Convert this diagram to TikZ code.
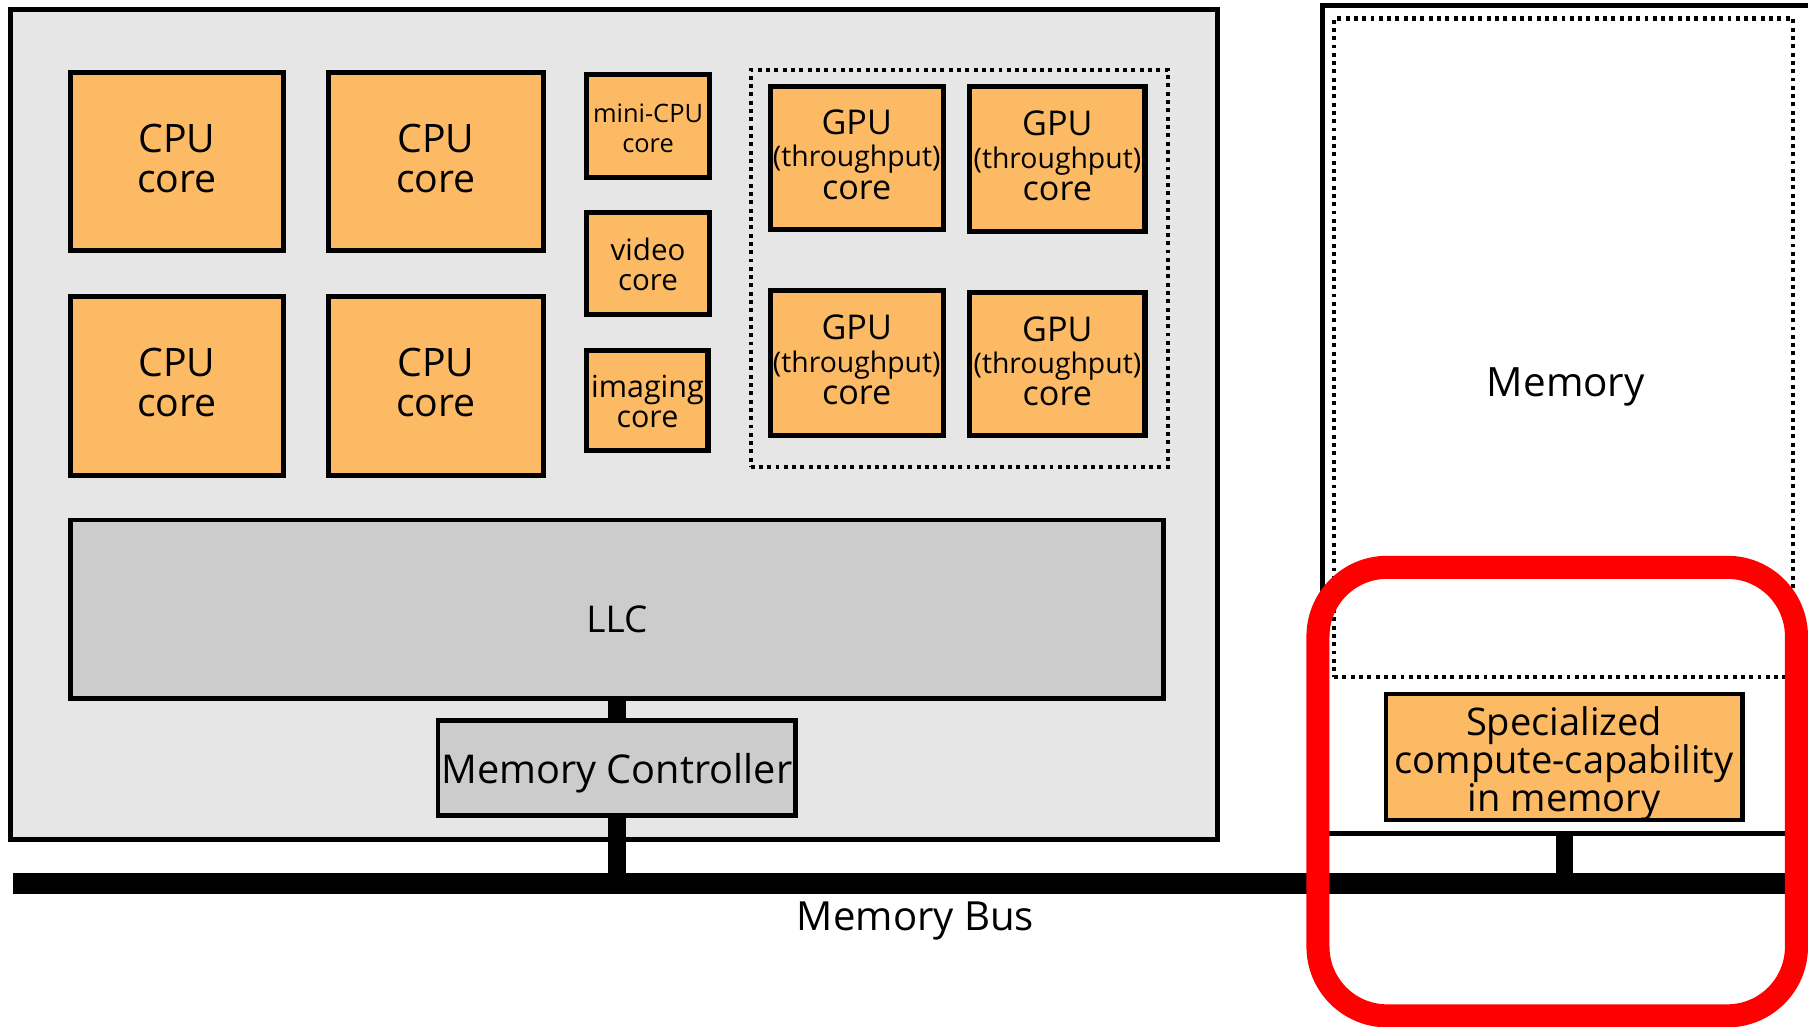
\documentclass[tikz,border=0pt]{standalone}
\usepackage{fontspec}
\setmainfont{Open Sans}
\usetikzlibrary{fit}
\definecolor{orng}{RGB}{252,186,100}
\definecolor{chipgray}{RGB}{230,230,230}
\definecolor{llcgray}{RGB}{204,204,204}
% stacked, centred lines: #1 = raise of the first baseline above the node centre,
% #2 = distance between baselines, #3 = lines separated by \cr
\newcommand{\stk}[3]{\makebox[0pt]{\raisebox{#1}[0pt][0pt]{\vtop{\baselineskip=#2\lineskiplimit=-100pt\relax\lineskip=0pt\relax\halign{\hfil##\hfil\cr#3\crcr}}}}}
\newcommand{\gputext}{\stk{10.1pt}{14pt}{\fontsize{14.8}{14}\selectfont GPU\cr\fontsize{12.3}{14}\selectfont (throughput)\cr\fontsize{14.8}{14}\selectfont core}}
\begin{document}
\begin{tikzpicture}[x=0.5pt,y=-0.5pt,
  core/.style={draw=black,line width=2.2pt,fill=orng,inner sep=0pt,outer sep=0pt},
  graybox/.style={draw=black,line width=2pt,fill=llcgray,inner sep=0pt,outer sep=0pt},
  dotbox/.style={draw=black,line width=1.8pt,dash pattern=on 1.7pt off 1.9pt,inner sep=0pt,outer sep=0pt},
  plainbox/.style={draw=black,line width=2pt,inner sep=0pt,outer sep=0pt},
  wire/.style={draw=black,line width=7.5pt},
  bus/.style={draw=black,line width=9pt},
  cpuf/.style={font=\fontsize{17}{17.5}\selectfont},
  lbl/.style={inner sep=0pt,anchor=base}]
\useasboundingbox (0,0) rectangle (1568,890);

% chip
\node[plainbox,fill=chipgray,fit={(9,8) (1056,728)}] (chip) {};

% CPU cores
\node[core,cpuf,fit={(61,63) (246,217)}] (c1) {\stk{3.9pt}{17.35pt}{CPU\cr core}};
\node[core,cpuf,fit={(285,63) (471,217)}] (c2) {\stk{3.9pt}{17.35pt}{CPU\cr core}};
\node[core,cpuf,fit={(61,257) (246,412)}] (c3) {\stk{4.2pt}{17.35pt}{CPU\cr core}};
\node[core,cpuf,fit={(285,257) (471,412)}] (c4) {\stk{4.2pt}{17.35pt}{CPU\cr core}};

% small cores
\node[core,font=\fontsize{11}{12.5}\selectfont,fit={(509,65) (615,154)}] (mini) {\stk{1.5pt}{12.7pt}{mini-CPU\cr core}};
\node[core,font=\fontsize{12.8}{13.5}\selectfont,fit={(509,184) (615,273)}] (video) {\stk{1.35pt}{12.9pt}{video\cr core}};
\node[core,font=\fontsize{13.2}{13}\selectfont,fit={(509,304) (614,391)}] (imaging) {\stk{1.3pt}{13pt}{imaging\cr core}};

% GPU group
\node[dotbox,fit={(651,61) (1013,405)}] (gpugrp) {};
\node[core,fit={(668,75) (818,199)}] (g1) {\gputext};
\node[core,fit={(841,75) (993,201)}] (g2) {\gputext};
\node[core,fit={(668,252) (818,378)}] (g3) {\gputext};
\node[core,fit={(841,254) (993,378)}] (g4) {\gputext};

% LLC and memory controller
\node[graybox,font=\fontsize{16}{16}\selectfont,fit={(61,451) (1009,606)}] (llc) {\stk{-10.1pt}{16pt}{LLC}};
\node[graybox,font=\fontsize{17.2}{17}\selectfont,fit={(380,625) (690,707)}] (mc) {\stk{-6.7pt}{17pt}{Memory Controller}};

% memory module
\node[plainbox,fit={(1147,5) (1590,723)}] (mem) {};
\node[dotbox,fit={(1157,16) (1555,587)}] (memarr) {};
\node[lbl,font=\fontsize{17.5}{17.5}\selectfont] (memlbl) at (1358,344) {Memory};
\node[core,line width=2pt,font=\fontsize{16.5}{16.5}\selectfont,fit={(1202,602) (1511,711)}] (spec) {\stk{9.25pt}{16.4pt}{Specialized\cr compute-capability\cr in memory}};

% bus
\coordinate (busL) at (11,766);
\coordinate (busR) at (1552,766);
\draw[bus] (busL) -- (busR);
\node[lbl,font=\fontsize{17.4}{17.4}\selectfont] (buslbl) at (794,807) {Memory Bus};

% connectors
\draw[wire] (llc.south) -- (mc.north);
\draw[wire] (mc.south) -- (mc.south |- busL);
\draw[wire] (spec.south |- mem.south) -- (spec.south |- busL);

% highlight
\node[draw=red,line width=10pt,rounded corners=30pt,inner sep=0pt,outer sep=0pt,fit={(1143,492) (1558,881)}] (hl) {};
\end{tikzpicture}
\end{document}
